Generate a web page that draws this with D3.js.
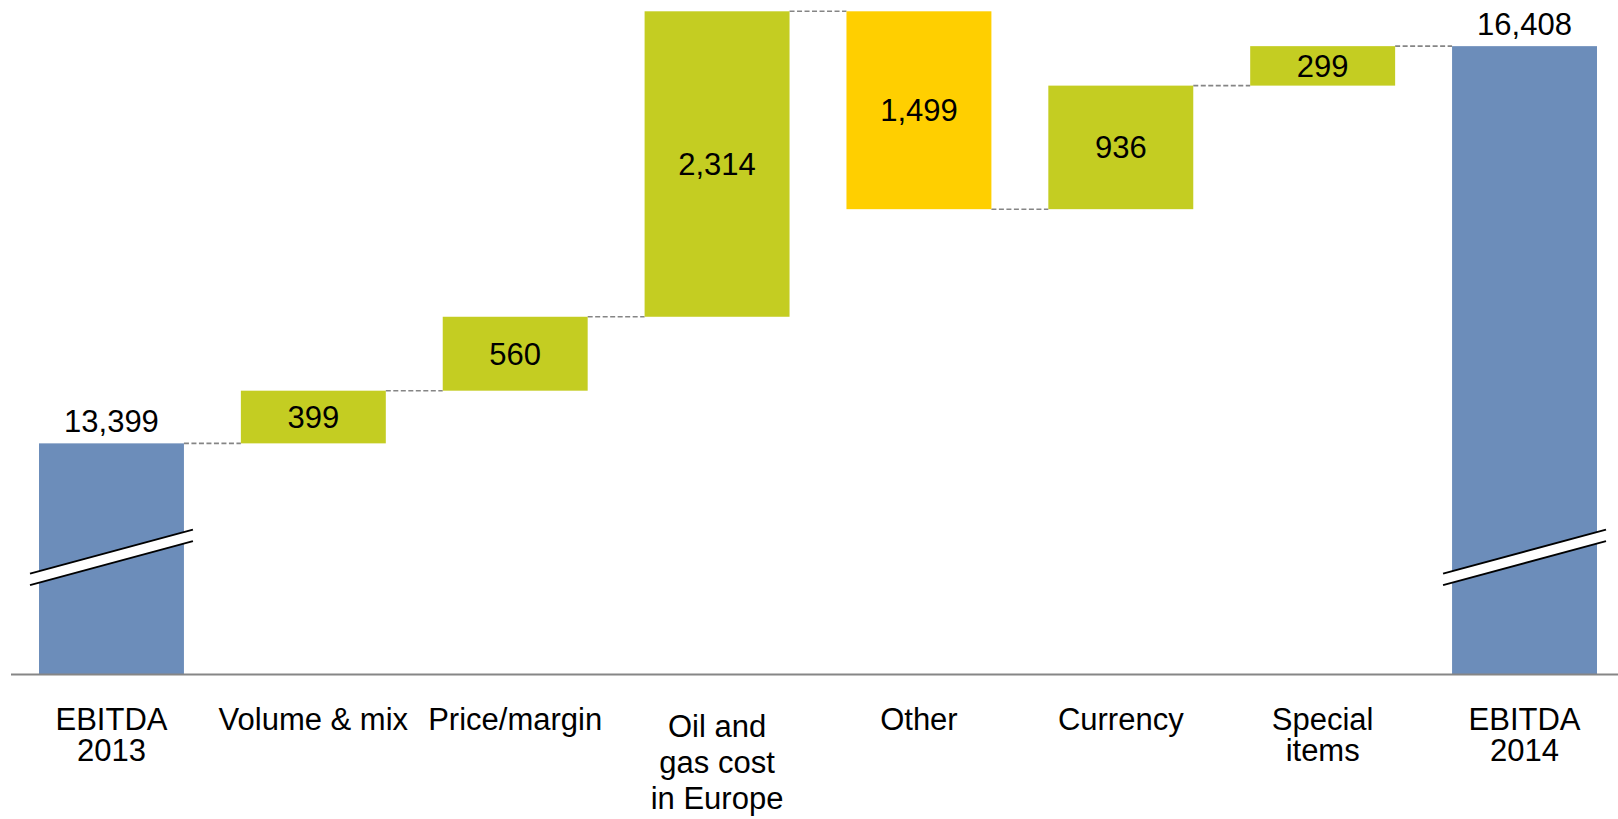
<!DOCTYPE html>
<html>
<head>
<meta charset="utf-8">
<script src="https://cdn.jsdelivr.net/npm/d3@7"></script>
<style>
  html, body { margin: 0; padding: 0; background: #fff; }
  svg { display: block; }
  text { font-family: "Liberation Sans", Arial, sans-serif; fill: #000; }
</style>
</head>
<body>
<svg id="chart" width="1618" height="819"></svg>
<script>
// ---- data ----
const categories = ["EBITDA\n2013", "Volume & mix", "Price/margin", "Oil and\ngas cost\nin Europe", "Other", "Currency", "Special\nitems", "EBITDA\n2014"];
const values = [13399, 399, 560, 2314, -1499, 936, 299, 16408];
const kinds = ["total", "delta", "delta", "delta", "delta", "delta", "delta", "total"];
const axisFloor = 11648;   // value at the (broken) baseline
const axisBreakValue = 12535; // where the break marks sit on total bars

// ---- layout ----
const W = 1618, H = 819;
const baseY = 674.5, topY = 11.3;
const fontSize = 31;
const colors = { total: "#6c8dba", up: "#c4cd22", down: "#ffcf00" };

const svg = d3.select("#chart");

// compute waterfall segments
let running = 0;
const bars = values.map((v, i) => {
  let start, end;
  if (kinds[i] === "total") { start = axisFloor; end = v; running = v; }
  else { start = running; end = running + v; running = end; }
  return { cat: categories[i], value: v, kind: kinds[i], start, end, level: running };
});

const maxVal = d3.max(bars, d => Math.max(d.start, d.end));

const x = d3.scaleBand()
  .domain(categories)
  .range([39, 1597])
  .paddingInner(0.282)
  .paddingOuter(0);

const y = d3.scaleLinear()
  .domain([axisFloor, maxVal])
  .range([baseY, topY]);

const fmt = d3.format(",");

// connectors
const conn = bars.slice(0, -1).map((d, i) => ({ x1: x(d.cat) + x.bandwidth(), x2: x(bars[i + 1].cat), y: y(d.level) }));
svg.append("g").selectAll("line").data(conn).join("line")
  .attr("x1", d => d.x1).attr("x2", d => d.x2)
  .attr("y1", d => d.y).attr("y2", d => d.y)
  .attr("stroke", "#858585").attr("stroke-width", 1.6)
  .attr("stroke-dasharray", "5,2.5");

// bars
svg.append("g").selectAll("rect").data(bars).join("rect")
  .attr("x", d => x(d.cat))
  .attr("width", x.bandwidth())
  .attr("y", d => y(Math.max(d.start, d.end)))
  .attr("height", d => Math.abs(y(d.start) - y(d.end)))
  .attr("fill", d => d.kind === "total" ? colors.total : (d.value >= 0 ? colors.up : colors.down));

// axis baseline
svg.append("line")
  .attr("x1", 11).attr("x2", W)
  .attr("y1", baseY).attr("y2", baseY)
  .attr("stroke", "#868686").attr("stroke-width", 2);

// break marks on total bars
const slope = -0.27, gap = 11.5, ext = 9;
const breaks = bars.filter(d => d.kind === "total");
const bg = svg.append("g").selectAll("g").data(breaks).join("g");
bg.each(function(d) {
  const g = d3.select(this);
  const cx = x(d.cat) + x.bandwidth() / 2;
  const cy = y(axisBreakValue);
  const xa = x(d.cat) - ext, xb = x(d.cat) + x.bandwidth() + ext;
  const ya = cy + (xa - cx) * slope, yb = cy + (xb - cx) * slope;
  g.append("polygon")
    .attr("points", [[xa, ya - gap / 2], [xb, yb - gap / 2], [xb, yb + gap / 2], [xa, ya + gap / 2]].map(p => p.join(",")).join(" "))
    .attr("fill", "#fff");
  [-gap / 2, gap / 2].forEach(o => {
    g.append("line")
      .attr("x1", xa).attr("y1", ya + o)
      .attr("x2", xb).attr("y2", yb + o)
      .attr("stroke", "#000").attr("stroke-width", 1.8);
  });
});

// value labels
svg.append("g").selectAll("text").data(bars).join("text")
  .attr("x", d => x(d.cat) + x.bandwidth() / 2)
  .attr("y", d => d.kind === "total"
    ? y(d.end) - 11.5
    : (y(d.start) + y(d.end)) / 2 + fontSize * 0.358)
  .attr("text-anchor", "middle")
  .attr("font-size", fontSize)
  .text(d => fmt(Math.abs(d.value)));

// category labels
const lg = svg.append("g").selectAll("text").data(bars).join("text")
  .attr("text-anchor", "middle")
  .attr("font-size", fontSize)
  .attr("x", d => x(d.cat) + x.bandwidth() / 2)
  .attr("y", d => d.cat.split("\n").length > 2 ? 737 : 729.5);
lg.each(function(d) {
  const t = d3.select(this);
  const cx = x(d.cat) + x.bandwidth() / 2;
  const lines = d.cat.split("\n");
  const lineH = lines.length > 2 ? 36 : 31.8;
  lines.forEach((s, i) => {
    t.append("tspan").attr("x", cx).attr("dy", i === 0 ? 0 : lineH).text(s);
  });
});
</script>
</body>
</html>
